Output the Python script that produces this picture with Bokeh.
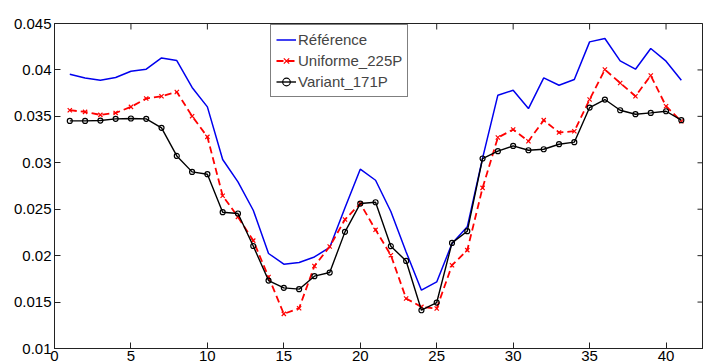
import numpy as np
from bokeh.plotting import figure
from bokeh.models import Range1d, FixedTicker, CustomJSTickFormatter
from bokeh.embed import file_html
from bokeh.resources import INLINE

x = list(range(1, 42))

reference = [0.03954, 0.03914, 0.03889, 0.03918, 0.03986, 0.04008, 0.04129, 0.04101, 0.03811, 0.03602,
             0.03035, 0.02794, 0.02489, 0.02023, 0.01908, 0.01926, 0.01986, 0.02088, 0.02515, 0.02931,
             0.02812, 0.02475, 0.02040, 0.01628, 0.01717, 0.02130, 0.02310, 0.03050, 0.03728, 0.03781,
             0.03584, 0.03914, 0.03835, 0.03897, 0.04302, 0.04338, 0.04097, 0.04008, 0.04231, 0.04094,
             0.03889]

uniforme = [0.03566, 0.03548, 0.03516, 0.03537, 0.03602, 0.03692, 0.03717, 0.03763, 0.03502, 0.03279,
            0.02645, 0.02417, 0.02162, 0.01770, 0.01373, 0.01434, 0.01888, 0.02098, 0.02389, 0.02561,
            0.02278, 0.02005, 0.01538, 0.01448, 0.01431, 0.01897, 0.02059, 0.02730, 0.03272, 0.03358,
            0.03232, 0.03459, 0.03326, 0.03340, 0.03681, 0.04004, 0.03860, 0.03717, 0.03940, 0.03609,
            0.03448]

variant = [0.03451, 0.03451, 0.03455, 0.03473, 0.03477, 0.03473, 0.03376, 0.03074, 0.02902, 0.02877,
           0.02468, 0.02454, 0.02104, 0.01732, 0.01653, 0.01639, 0.01779, 0.01818, 0.02256, 0.02561,
           0.02575, 0.02102, 0.01943, 0.01412, 0.01495, 0.02137, 0.02263, 0.03046, 0.03125, 0.03182,
           0.03135, 0.03146, 0.03200, 0.03222, 0.03595, 0.03681, 0.03566, 0.03523, 0.03537, 0.03555,
           0.03459]

x_ticks = [0, 5, 10, 15, 20, 25, 30, 35, 40, 45]
y_ticks = [0.01, 0.015, 0.02, 0.025, 0.03, 0.035, 0.04, 0.045]
labels = ["Référence", "Uniforme_225P", "Variant_171P"]

FONT = "Liberation Sans"
X_END = 42.45
Y_START, Y_END = 0.01, 0.045

p = figure(width=703, height=363, output_backend="svg", toolbar_location=None,
           x_range=Range1d(0, X_END), y_range=Range1d(Y_START, Y_END),
           min_border_left=54, min_border_right=0, min_border_top=23, min_border_bottom=0)
p.grid.visible = False
p.outline_line_color = "#222222"
p.background_fill_color = "white"
p.border_fill_color = "white"

for ax in (p.xaxis[0], p.yaxis[0]):
    ax.major_tick_in = 6
    ax.major_tick_out = 0
    ax.minor_tick_line_color = None
    ax.axis_line_color = "#222222"
    ax.major_tick_line_color = "#222222"
    ax.major_label_text_font = FONT
    ax.major_label_text_font_size = "15px"
    ax.major_label_text_color = "black"

p.xaxis[0].ticker = FixedTicker(ticks=x_ticks)
p.xaxis[0].major_label_standoff = 2
p.xaxis[0].major_label_text_line_height = 0.9
p.yaxis[0].ticker = FixedTicker(ticks=y_ticks)
p.yaxis[0].major_label_standoff = 3
p.yaxis[0].formatter = CustomJSTickFormatter(code="return tick.toFixed(3).replace(/0+$/, '');")

# box-style inward ticks on the top edge (MATLAB "box on")
top_ticks = [t for t in x_ticks if t <= X_END]
p.scatter(top_ticks, [Y_END] * len(top_ticks), marker="dash", angle=np.pi / 2, size=12,
          line_color="#222222", line_width=1)
# right edge inward ticks
p.scatter([X_END] * len(y_ticks), y_ticks, marker="dash", size=12,
          line_color="#222222", line_width=1)

p.line(x, reference, line_color="#0000ee", line_width=1.5, legend_label=labels[0])
p.line(x, uniforme, line_color="#ff0000", line_width=1.8, line_dash="7 4", legend_label=labels[1])
p.scatter(x, uniforme, marker="x", size=6, line_color="#ff0000", line_width=1.2, legend_label=labels[1])
p.line(x, variant, line_color="black", line_width=1.4, legend_label=labels[2])
p.scatter(x, variant, marker="circle", size=5, line_color="black", line_width=1.2,
          fill_color="white", fill_alpha=0.0, legend_label=labels[2])

lg = p.legend[0]
lg.location = (216, 251)
lg.label_text_font = FONT
lg.label_text_font_size = "15px"
lg.glyph_width = 20
lg.glyph_height = 19
lg.label_height = 19
lg.label_standoff = 2
lg.spacing = 2
lg.padding = 5
lg.margin = 0
lg.border_line_color = "black"
lg.border_line_width = 1
lg.background_fill_color = "white"
lg.background_fill_alpha = 1.0

open("out.html", "w").write(file_html(p, INLINE))
